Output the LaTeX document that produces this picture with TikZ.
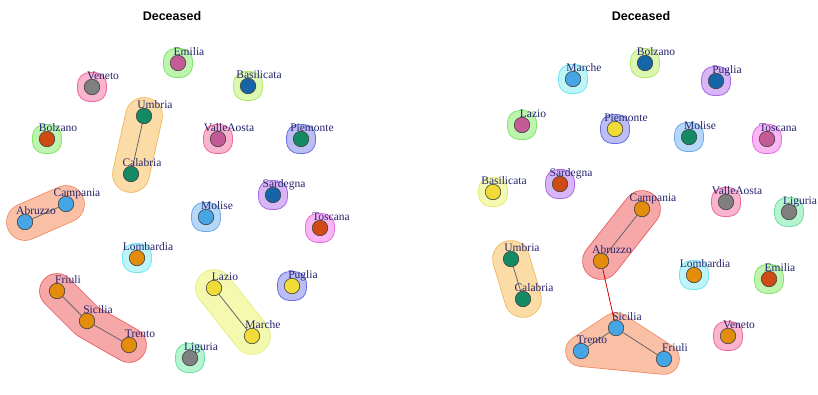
\documentclass[tikz,border=0pt]{standalone}
\usepackage{fontspec}
\setmainfont{Liberation Serif}
\newfontfamily\titlefont{Liberation Sans}
\usetikzlibrary{calc,backgrounds}

% hull colours (fill / outline)
\definecolor{greenF}{HTML}{BEF4AE}\definecolor{greenL}{HTML}{80E468}
\definecolor{pinkF}{HTML}{FAB4CF}\definecolor{pinkL}{HTML}{F06898}
\definecolor{orangeF}{HTML}{FCDCA6}\definecolor{orangeL}{HTML}{F2B458}
\definecolor{salmonF}{HTML}{FAC0A6}\definecolor{salmonL}{HTML}{F08A60}
\definecolor{redF}{HTML}{F6A8A8}\definecolor{redL}{HTML}{E85858}
\definecolor{yellowF}{HTML}{F5F9B0}\definecolor{yellowL}{HTML}{E4EC70}
\definecolor{blueF}{HTML}{BABEF5}\definecolor{blueL}{HTML}{6870E0}
\definecolor{purpleF}{HTML}{D8B6F5}\definecolor{purpleL}{HTML}{A868E8}
\definecolor{lblueF}{HTML}{B6D8F8}\definecolor{lblueL}{HTML}{70A8E8}
\definecolor{cyanF}{HTML}{BEF5F9}\definecolor{cyanL}{HTML}{70E4F0}
\definecolor{magF}{HTML}{F9B6F2}\definecolor{magL}{HTML}{E070E0}
\definecolor{mintF}{HTML}{B6F3D0}\definecolor{mintL}{HTML}{70E0A8}
\definecolor{ygreenF}{HTML}{DCF7B0}\definecolor{ygreenL}{HTML}{B0E868}
% vertex colours
\definecolor{cgray}{HTML}{808080}
\definecolor{cmag}{HTML}{C45A96}
\definecolor{cdblue}{HTML}{1565A8}
\definecolor{cgreen}{HTML}{148A64}
\definecolor{cred}{HTML}{D04A14}
\definecolor{clblue}{HTML}{45A5E5}
\definecolor{corange}{HTML}{E48C0C}
\definecolor{cyellow}{HTML}{F0DC38}
\definecolor{labcol}{HTML}{24246E}

\tikzset{
  vert/.style={circle, draw=black!75, line width=0.6pt, minimum size=15.5pt, inner sep=0pt},
  lab/.style={font=\fontsize{11.5}{12}\selectfont, text=labcol, inner sep=0pt},
  link/.style={draw=black!60, line width=0.8pt},
  crosslink/.style={draw=red!85!black, line width=0.8pt},
  title/.style={font=\titlefont\bfseries\fontsize{12.5}{14}\selectfont, inner sep=0pt},
  sblob/.style={fill=#1F, draw=#1L, line width=0.8pt, rounded corners=12pt},
  hullL/.style={draw=#1L, line width=\hullw+1.6pt, line cap=round, line join=round},
  hullF/.style={draw=#1F, fill=#1F, line width=\hullw, line cap=round, line join=round},
}
\newcommand\hullw{36pt}

% vertex with its label: name, x, y, text, fill
\newcommand\vx[5]{%
  \node[vert, fill=#5] (#1) at (#2,#3) {};
  \node[lab, anchor=base] (#1-t) at (#2+11,#3-7.5) {#4};
}
% single-vertex group hull
\newcommand\oneblob[2]{%
  \draw[sblob=#2] ($(#1)+(-14.5,-14.5)$) rectangle ($(#1)+(14.5,14.5)$);
}
% two-vertex group hull
\newcommand\twoblob[3]{%
  \draw[hullL=#3] (#1.center) -- (#2.center);
  \draw[hullF=#3] (#1.center) -- (#2.center);
}

\begin{document}
\begin{tikzpicture}[x=1pt,y=-1pt]
\useasboundingbox (0,0) rectangle (818,394);
\begin{scope}[on background layer]
  \fill[white] (0,0) rectangle (818,394);
\end{scope}

\node[title] (tleft) at (172,16) {Deceased};
\node[title] (tright) at (641,16) {Deceased};

% ---------- left community plot ----------
\vx{LVeneto}{92}{87}{Veneto}{cgray}
\vx{LEmilia}{178}{63}{Emilia}{cmag}
\vx{LBasilicata}{248}{86}{Basilicata}{cdblue}
\vx{LUmbria}{144}{116}{Umbria}{cgreen}
\vx{LCalabria}{131}{174}{Calabria}{cgreen}
\vx{LBolzano}{47}{139}{Bolzano}{cred}
\vx{LValleAosta}{218}{139}{ValleAosta}{cmag}
\vx{LPiemonte}{301}{139}{Piemonte}{cgreen}
\vx{LCampania}{66}{204}{Campania}{clblue}
\vx{LAbruzzo}{25}{222}{Abruzzo}{clblue}
\vx{LSardegna}{273}{195}{Sardegna}{cdblue}
\vx{LMolise}{206}{217}{Molise}{clblue}
\vx{LToscana}{320}{228}{Toscana}{cred}
\vx{LLombardia}{137}{258}{Lombardia}{corange}
\vx{LFriuli}{57}{291}{Friuli}{corange}
\vx{LSicilia}{87}{321}{Sicilia}{corange}
\vx{LTrento}{129}{345}{Trento}{corange}
\vx{LLiguria}{190}{358}{Liguria}{cgray}
\vx{LLazio}{214}{288}{Lazio}{cyellow}
\vx{LMarche}{252}{336}{Marche}{cyellow}
\vx{LPuglia}{292}{286}{Puglia}{cyellow}

% ---------- right community plot ----------
\vx{RMarche}{573}{79}{Marche}{clblue}
\vx{RBolzano}{645}{63}{Bolzano}{cdblue}
\vx{RPuglia}{716}{81}{Puglia}{cdblue}
\vx{RLazio}{522}{125}{Lazio}{cmag}
\vx{RPiemonte}{615}{129}{Piemonte}{cyellow}
\vx{RMolise}{689}{137}{Molise}{cgreen}
\vx{RToscana}{767}{139}{Toscana}{cmag}
\vx{RBasilicata}{493}{192}{Basilicata}{cyellow}
\vx{RSardegna}{560}{184}{Sardegna}{cred}
\vx{RCampania}{642}{209}{Campania}{corange}
\vx{RAbruzzo}{601}{261}{Abruzzo}{corange}
\vx{RValleAosta}{726}{202}{ValleAosta}{cgray}
\vx{RLiguria}{789}{212}{Liguria}{cgray}
\vx{RUmbria}{511}{259}{Umbria}{cgreen}
\vx{RCalabria}{523}{299}{Calabria}{cgreen}
\vx{RLombardia}{694}{275}{Lombardia}{corange}
\vx{REmilia}{769}{279}{Emilia}{cred}
\vx{RVeneto}{728}{336}{Veneto}{corange}
\vx{RSicilia}{616}{328}{Sicilia}{clblue}
\vx{RTrento}{581}{351}{Trento}{clblue}
\vx{RFriuli}{664}{359}{Friuli}{clblue}

% ---------- hulls and edges, behind the vertices ----------
\begin{scope}[on background layer]
  % left
  \oneblob{LVeneto}{pink}
  \oneblob{LEmilia}{green}
  \oneblob{LBasilicata}{ygreen}
  \oneblob{LBolzano}{green}
  \oneblob{LValleAosta}{pink}
  \oneblob{LPiemonte}{blue}
  \oneblob{LSardegna}{purple}
  \oneblob{LMolise}{lblue}
  \oneblob{LToscana}{mag}
  \oneblob{LLombardia}{cyan}
  \oneblob{LLiguria}{mint}
  \oneblob{LPuglia}{blue}
  \twoblob{LUmbria}{LCalabria}{orange}
  \twoblob{LAbruzzo}{LCampania}{salmon}
  \twoblob{LLazio}{LMarche}{yellow}
  \begin{scope}[/utils/exec={\renewcommand\hullw{34pt}}]
    \draw[hullL=red] (LFriuli.center) -- (LSicilia.center) -- (LTrento.center);
    \draw[hullF=red] (LFriuli.center) -- (LSicilia.center) -- (LTrento.center);
  \end{scope}
  % right
  \oneblob{RMarche}{cyan}
  \oneblob{RBolzano}{ygreen}
  \oneblob{RPuglia}{purple}
  \oneblob{RLazio}{green}
  \oneblob{RPiemonte}{blue}
  \oneblob{RMolise}{lblue}
  \oneblob{RToscana}{mag}
  \oneblob{RBasilicata}{yellow}
  \oneblob{RSardegna}{purple}
  \oneblob{RValleAosta}{pink}
  \oneblob{RLiguria}{mint}
  \oneblob{RLombardia}{cyan}
  \oneblob{REmilia}{green}
  \oneblob{RVeneto}{pink}
  \twoblob{RCampania}{RAbruzzo}{red}
  \twoblob{RUmbria}{RCalabria}{orange}
  \begin{scope}[/utils/exec={\renewcommand\hullw{30pt}}]
    \draw[hullL=salmon] (RSicilia.center) -- (RTrento.center) -- (RFriuli.center) -- cycle;
    \draw[hullF=salmon] (RSicilia.center) -- (RTrento.center) -- (RFriuli.center) -- cycle;
  \end{scope}

  % edges
  \draw[link] (LUmbria) -- (LCalabria);
  \draw[link] (LAbruzzo) -- (LCampania);
  \draw[link] (LFriuli) -- (LSicilia);
  \draw[link] (LSicilia) -- (LTrento);
  \draw[link] (LLazio) -- (LMarche);
  \draw[link] (RUmbria) -- (RCalabria);
  \draw[link] (RCampania) -- (RAbruzzo);
  \draw[link] (RSicilia) -- (RTrento);
  \draw[link] (RSicilia) -- (RFriuli);
  \draw[crosslink] (RAbruzzo) -- (RSicilia);
\end{scope}
\end{tikzpicture}
\end{document}
